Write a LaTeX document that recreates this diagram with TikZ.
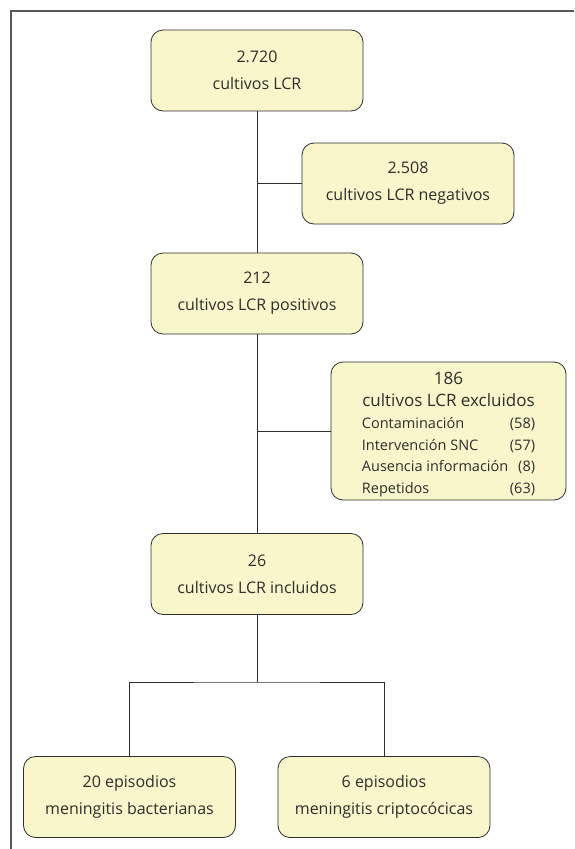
\documentclass[tikz,border=0pt]{standalone}
\usepackage{fontspec}
\setmainfont{Open Sans}
\usepackage{xcolor}
\usepackage{tikz}

\definecolor{boxfill}{HTML}{F8F6CA}
\definecolor{inkgray}{HTML}{2E2E2E}

\newcommand{\excllist}{%
  \fontsize{14.5}{21.5}\selectfont
  \begin{tabular}[t]{@{}p{148pt}@{}r@{}}
    Contaminación & (58)\\
    Intervención SNC & (57)\\
    Ausencia información & (8)\\
    Repetidos & (63)
  \end{tabular}}

\begin{document}
\begin{tikzpicture}[
    x=1pt, y=-1pt,
    stage/.style={draw=inkgray, fill=boxfill, rounded corners=12pt, align=center, line width=0.8pt,
        minimum width=212pt, minimum height=81pt, inner sep=0pt, text=inkgray,
        font=\fontsize{16}{27}\selectfont},
    exclbox/.style={stage, minimum width=235pt, minimum height=138pt,
        font=\fontsize{17}{22}\selectfont},
    link/.style={draw=inkgray, line width=0.8pt}
]
\useasboundingbox (0,0) rectangle (574,849);
\draw[draw=inkgray!80, line width=1.2pt] (11,849) -- (11,11) -- (574,11);

\node[stage] at (257,70.5) (n2720) {2.720\\cultivos LCR};
\node[stage] at (408,183.5) (n2508) {2.508\\cultivos LCR negativos};
\node[stage] at (257,293.5) (n212) {212\\cultivos LCR positivos};
\node[exclbox] at (448.5,431) (n186) {\rule{0pt}{22pt}186\\cultivos LCR excluidos\\\excllist};
\node[stage] at (257,574) (n26) {26\\cultivos LCR incluidos};
\node[stage] at (129.5,797) (n20) {20 episodios\\meningitis bacterianas};
\node[stage] at (384,797) (n6) {6 episodios\\meningitis criptocócicas};

\coordinate (split) at (257,682);

\draw[link] (n2720) -- (n212);
\draw[link] (n2508.west) -- (n2508.west -| n2720);
\draw[link] (n212) -- (n26);
\draw[link] (n186.west) -- (n186.west -| n212);
\draw[link] (n26) -- (split);
\draw[link] (n20.north) |- (split) -| (n6.north);
\end{tikzpicture}
\end{document}
